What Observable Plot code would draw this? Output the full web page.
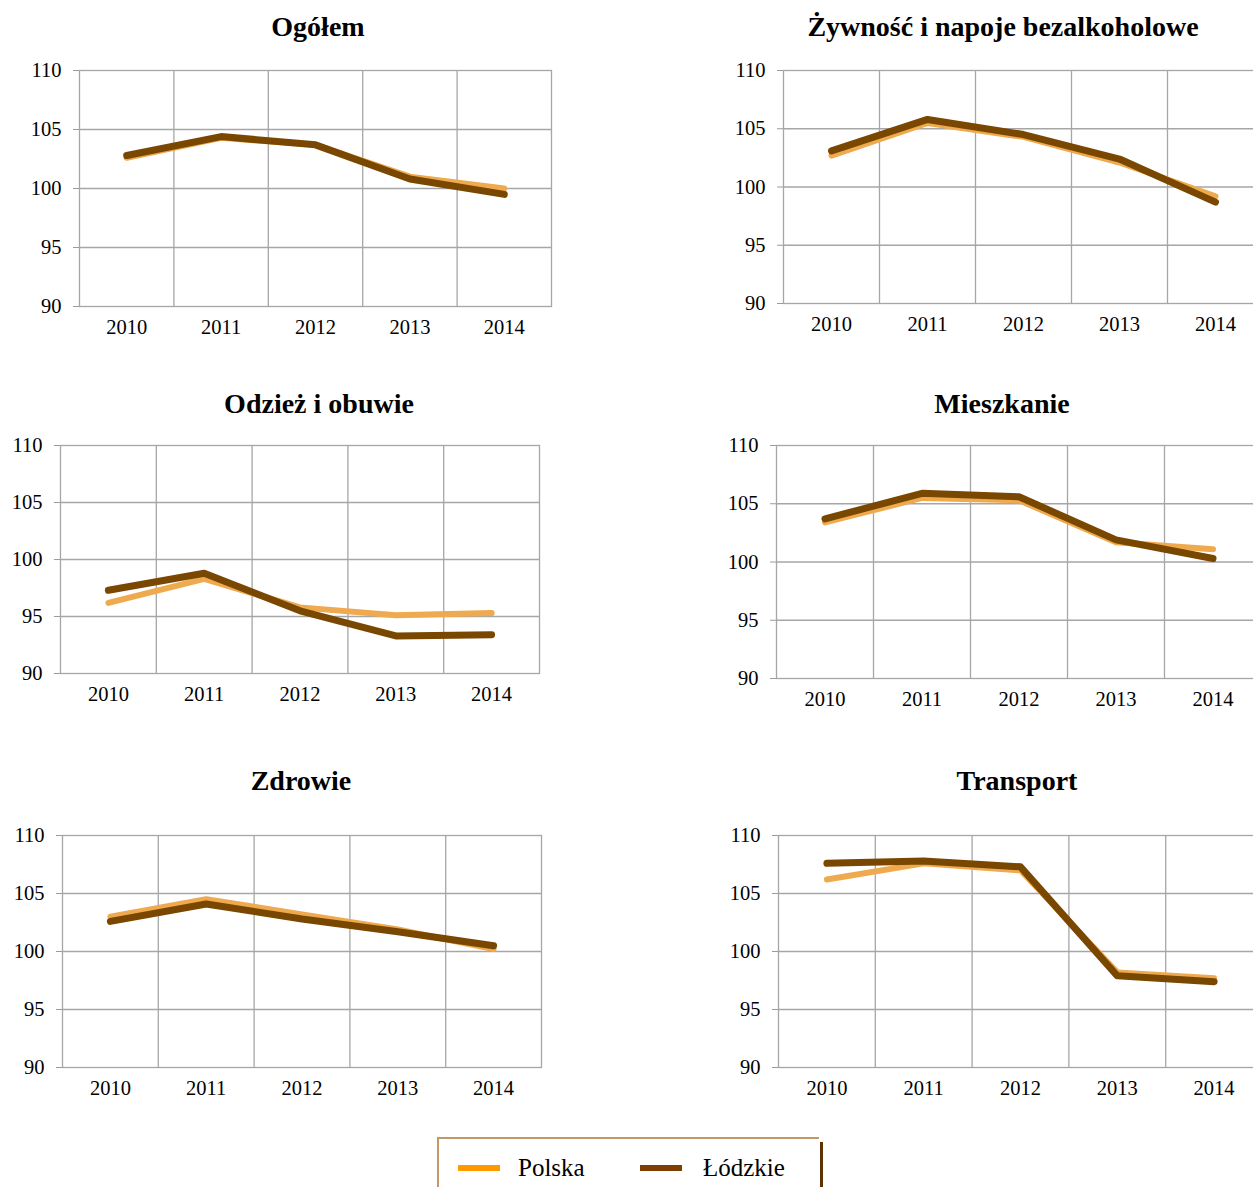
<!DOCTYPE html>
<html>
<head>
<meta charset="utf-8">
<script src="https://cdn.jsdelivr.net/npm/d3@7"></script>
<script src="https://cdn.jsdelivr.net/npm/@observablehq/plot@0.6"></script>
<style>
  html, body { margin: 0; padding: 0; background: #fff; }
  #root { position: relative; width: 1253px; height: 1187px; overflow: hidden; background: #fff;
          font-family: "Liberation Serif", "Times New Roman", serif; }
  .panel { position: absolute; }
  .panel svg { max-width: none !important; font-family: "Liberation Serif", "Times New Roman", serif !important; font-size: 20.5px !important; }
  .panel svg text { fill: #000; font-family: "Liberation Serif", "Times New Roman", serif !important; font-size: 20.5px !important; }
  .title { position: absolute; width: 700px; text-align: center; font-weight: bold; font-size: 28px;
           line-height: 34px; color: #000; white-space: nowrap; }
  .legend-text { position: absolute; font-size: 25px; line-height: 30px; color: #000; }
  .swatch { position: absolute; height: 6px; width: 42px; }
</style>
</head>
<body>
<div id="root"></div>
<script>
// ---- Data ----
const years = [2010, 2011, 2012, 2013, 2014];
const seriesNames = ["Polska", "Łódzkie"];
const titles = ["Ogółem", "Żywność i napoje bezalkoholowe", "Odzież i obuwie", "Mieszkanie", "Zdrowie", "Transport"];
const yTicks = [90, 95, 100, 105, 110];

const polskaOgolem    = [102.6, 104.3, 103.7, 101.0, 100.0];
const lodzkieOgolem   = [102.8, 104.4, 103.7, 100.8, 99.5];
const polskaZywnosc   = [102.7, 105.5, 104.3, 102.1, 99.2];
const lodzkieZywnosc  = [103.1, 105.8, 104.5, 102.4, 98.7];
const polskaOdziez    = [96.2, 98.3, 95.8, 95.1, 95.3];
const lodzkieOdziez   = [97.3, 98.8, 95.5, 93.3, 93.4];
const polskaMieszk    = [103.4, 105.5, 105.3, 101.7, 101.1];
const lodzkieMieszk   = [103.7, 105.9, 105.6, 101.9, 100.3];
const polskaZdrowie   = [103.0, 104.5, 103.2, 101.9, 100.2];
const lodzkieZdrowie  = [102.6, 104.1, 102.8, 101.7, 100.5];
const polskaTransport = [106.2, 107.6, 107.0, 98.2, 97.7];
const lodzkieTransport= [107.6, 107.8, 107.3, 97.9, 97.4];

const polskaAll  = [polskaOgolem, polskaZywnosc, polskaOdziez, polskaMieszk, polskaZdrowie, polskaTransport];
const lodzkieAll = [lodzkieOgolem, lodzkieZywnosc, lodzkieOdziez, lodzkieMieszk, lodzkieZdrowie, lodzkieTransport];

// ---- Layout (plot frame rectangles and title centres) ----
const layout = [
  {x0: 79,  x1: 551,  y0: 70,  y1: 306,  tx: 318,  ty: 27},
  {x0: 783, x1: 1263, y0: 70,  y1: 303,  tx: 1003, ty: 27},
  {x0: 60,  x1: 539,  y0: 445, y1: 673,  tx: 319,  ty: 404},
  {x0: 776, x1: 1261, y0: 445, y1: 678,  tx: 1002, ty: 404},
  {x0: 62,  x1: 541,  y0: 835, y1: 1067, tx: 301,  ty: 781},
  {x0: 778, x1: 1262, y0: 835, y1: 1067, tx: 1017, ty: 781}
];

const colorPolska = "#EFA94E";
const colorLodzkie = "#794700";
const gridColor = "#A6A6A6";
const root = document.getElementById("root");

const ML = 80, MR = 10, MT = 12, MB = 44;
const boundaries = years.slice(1).map(y => y - 0.5);

titles.forEach((title, i) => {
  const L = layout[i];
  const data = [];
  years.forEach((yr, j) => {
    data.push({year: yr, value: polskaAll[i][j], series: seriesNames[0]});
  });
  years.forEach((yr, j) => {
    data.push({year: yr, value: lodzkieAll[i][j], series: seriesNames[1]});
  });
  const W = ML + (L.x1 - L.x0) + MR;
  const H = MT + (L.y1 - L.y0) + MB;
  const chart = Plot.plot({
    width: W,
    height: H,
    marginLeft: ML, marginRight: MR, marginTop: MT, marginBottom: MB,
    style: {fontFamily: '"Liberation Serif", "Times New Roman", serif', fontSize: "20.5px", color: "#9a9a9a", background: "transparent", overflow: "visible", maxWidth: "none"},
    x: {type: "linear", domain: [years[0] - 0.5, years[years.length - 1] + 0.5], ticks: years, tickFormat: d => String(d), tickSize: 0, tickPadding: 13, label: null},
    y: {domain: [yTicks[0], yTicks[yTicks.length - 1]], ticks: yTicks, tickSize: 6, tickPadding: 12, label: null},
    marks: [
      Plot.ruleY(yTicks.slice(1, -1), {stroke: gridColor, strokeWidth: 1.3}),
      Plot.ruleX(boundaries, {stroke: gridColor, strokeWidth: 1.3}),
      Plot.frame({stroke: gridColor, strokeWidth: 1.3}),
      Plot.line(data.filter(d => d.series === seriesNames[0]), {x: "year", y: "value", stroke: colorPolska, strokeWidth: 6, strokeLinecap: "round", strokeLinejoin: "round"}),
      Plot.line(data.filter(d => d.series === seriesNames[1]), {x: "year", y: "value", stroke: colorLodzkie, strokeWidth: 7, strokeLinecap: "round", strokeLinejoin: "round"})
    ]
  });
  const wrap = document.createElement("div");
  wrap.className = "panel";
  wrap.style.left = (L.x0 - ML) + "px";
  wrap.style.top = (L.y0 - MT) + "px";
  wrap.style.width = W + "px";
  wrap.style.height = H + "px";
  wrap.appendChild(chart);
  root.appendChild(wrap);

  const t = document.createElement("div");
  t.className = "title";
  t.textContent = title;
  t.style.left = (L.tx - 350) + "px";
  t.style.top = (L.ty - 17) + "px";
  root.appendChild(t);
});

// ---- Legend ----
function box(styles) {
  const d = document.createElement("div");
  d.style.position = "absolute";
  Object.assign(d.style, styles);
  root.appendChild(d);
  return d;
}
box({left: "437px", top: "1137px", width: "382px", height: "2px", background: "#C39866"});
box({left: "437px", top: "1137px", width: "2px", height: "60px", background: "#C39866"});
box({left: "820px", top: "1142px", width: "3px", height: "60px", background: "#5E3205"});
const legendColors = ["#FF9900", "#7F3F00"];
const legendSwatchX = [458, 640];
const legendTextX = [518, 703];
seriesNames.forEach((name, i) => {
  const s = document.createElement("div");
  s.className = "swatch";
  s.style.left = legendSwatchX[i] + "px";
  s.style.top = "1165px";
  s.style.background = legendColors[i];
  root.appendChild(s);
  const t = document.createElement("div");
  t.className = "legend-text";
  t.textContent = name;
  t.style.left = legendTextX[i] + "px";
  t.style.top = "1153px";
  root.appendChild(t);
});
</script>
</body>
</html>
